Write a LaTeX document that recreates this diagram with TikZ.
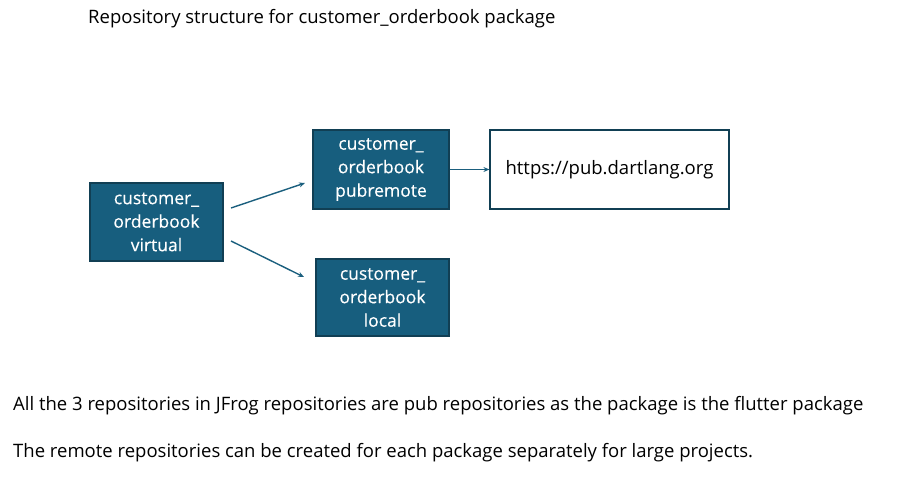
\documentclass[tikz,border=0pt]{standalone}
\usepackage{fontspec}
\setmainfont{Open Sans}
\newfontfamily\boxfont[FakeBold=0.4]{Open Sans}
\usetikzlibrary{arrows.meta}
\definecolor{boxfill}{HTML}{175E7E}
\definecolor{boxline}{HTML}{113F54}
\definecolor{arrowc}{HTML}{1B5F7E}
\begin{document}
\begin{tikzpicture}[x=1pt,y=-1pt,
  repo/.style={draw=boxline, line width=1.2pt, fill=boxfill, text=white, align=center,
    font=\boxfont\fontsize{17.5}{23.5}\selectfont, inner sep=0pt},
  urlbox/.style={draw=boxline, line width=1.2pt, fill=white, font=\fontsize{18.5}{20}\selectfont, inner sep=0pt},
  conn/.style={draw=arrowc, line width=1.4pt, -{Stealth[length=6pt,width=5pt]}},
  plain/.style={anchor=west, inner sep=0pt, font=\fontsize{18.5}{20}\selectfont}]
\useasboundingbox (0,0) rectangle (904,482);
\node[repo, minimum width=133pt, minimum height=78pt] (virtual) at (156.5,222) {customer\_\\orderbook\\virtual};
\node[repo, minimum width=136pt, minimum height=79pt] (pubremote) at (381,169.5) {customer\_\\orderbook\\pubremote};
\node[repo, minimum width=133pt, minimum height=77pt] (local) at (382.5,297.5) {customer\_\\orderbook\\local};
\node[urlbox, minimum width=239pt, minimum height=79pt] (url) at (609.5,169.5) {https://pub.dartlang.org};
\coordinate (a1s) at (231,208);
\coordinate (a1e) at (305,183);
\coordinate (a2s) at (231,241);
\coordinate (a2e) at (304,277);
\path[conn] (a1s) -- (a1e);
\path[conn] (a2s) -- (a2e);
\path[conn] (pubremote.east) -- (url.west);
\node[plain] (title) at (88,19) {Repository structure for customer\_orderbook package};
\node[plain] (note1) at (13,406) {All the 3 repositories in JFrog repositories are pub repositories as the package is the flutter package};
\node[plain] (note2) at (13,453) {The remote repositories can be created for each package separately for large projects.};
\end{tikzpicture}
\end{document}
